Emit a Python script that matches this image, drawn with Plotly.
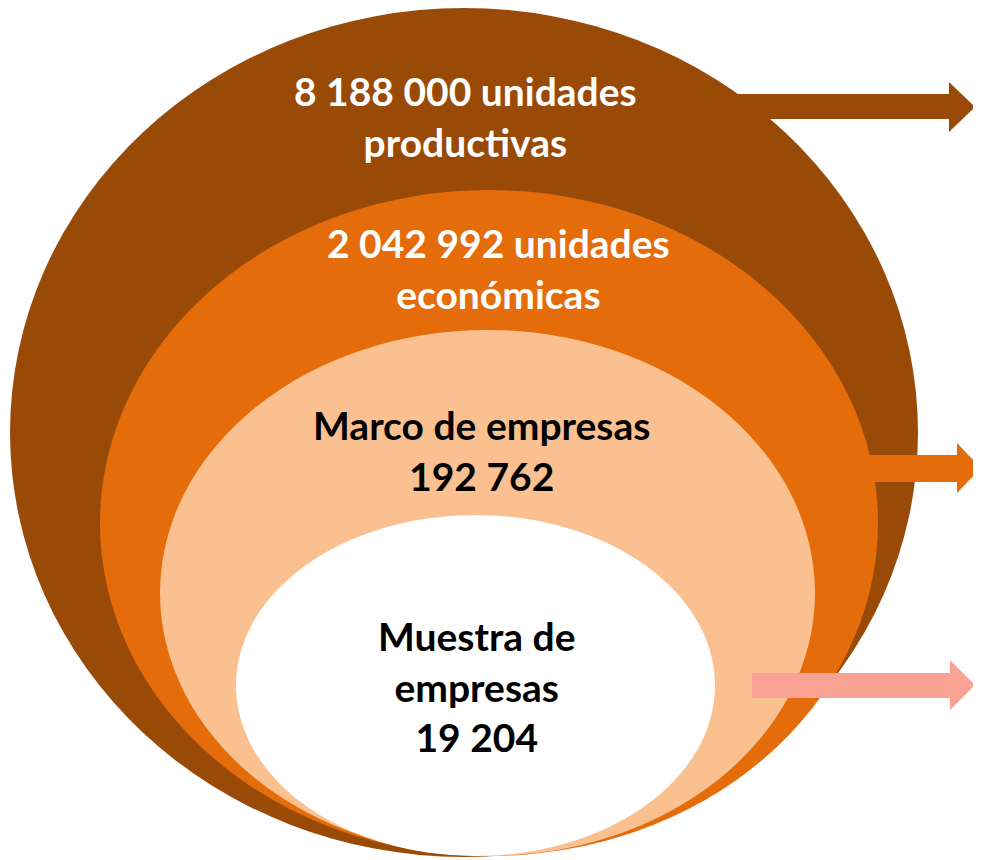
import plotly.graph_objects as go

# nested levels, outer to inner
labels = ["unidades<br>productivas", "unidades<br>económicas",
          "Marco de empresas<br>", "Muestra de<br>empresas<br>"]
values = ["8 188 000", "2 042 992", "192 762", "19 204"]
fills = ["#994A07", "#E46C0A", "#FAC090", "#FFFFFF"]
text_colors = ["white", "white", "black", "black"]
arrow_colors = ["#994A07", "#E46C0A", "#F9A193"]

W, H = 981, 860
PAD = 8  # page body margin, figure starts 8px in

# ellipse boxes (x0, y0, x1, y1) in pixels from top-left
ellipses = [(10, 8, 918, 857), (100, 190, 878, 856),
            (160, 330, 815, 856), (236, 515, 715, 856)]
# arrows: x start, x head start, x tip, shaft top, shaft bottom, head top, head bottom
arrows = [(735, 949, 975, 94, 119, 82, 132),
          (862, 957, 981, 455, 482, 443, 493),
          (752, 950, 975, 673, 698, 660, 710)]
# text anchor positions (x, y of centre)
text_pos = [(465, 116), (498, 268), (481, 450), (476, 686)]

fig = go.Figure()
fig.add_trace(go.Scatter(x=[PAD, W], y=[PAD, H], mode="markers",
                         marker=dict(opacity=0), hoverinfo="skip"))

for (x0, y0, x1, y1), c in zip(ellipses, fills):
    fig.add_shape(type="circle", x0=x0, y0=y0, x1=x1, y1=y1,
                  fillcolor=c, line=dict(width=0), layer="above")

for (xs, xh, xt, st, sb, ht, hb), c in zip(arrows, arrow_colors):
    ym = (ht + hb) / 2
    path = (f"M{xs},{st} L{xh},{st} L{xh},{ht} L{xt},{ym} L{xh},{hb} "
            f"L{xh},{sb} L{xs},{sb} Z")
    fig.add_shape(type="path", path=path, fillcolor=c,
                  line=dict(width=0), layer="above")

for i, (lab, val) in enumerate(zip(labels, values)):
    if i < 2:
        txt = f"<b>{val} {lab}</b>"
    else:
        txt = f"<b>{lab}{val}</b>"
    x, y = text_pos[i]
    fig.add_annotation(x=x, y=y, text=txt, showarrow=False,
                       font=dict(family="Lato", size=39, color=text_colors[i]),
                       align="center")

fig.update_xaxes(range=[PAD, W], visible=False, fixedrange=True)
fig.update_yaxes(range=[H, PAD], visible=False, fixedrange=True)
fig.update_layout(width=W - PAD, height=H - PAD,
                  margin=dict(l=0, r=0, t=0, b=0),
                  plot_bgcolor="white", paper_bgcolor="white",
                  showlegend=False)

fig.write_html("out.html")
